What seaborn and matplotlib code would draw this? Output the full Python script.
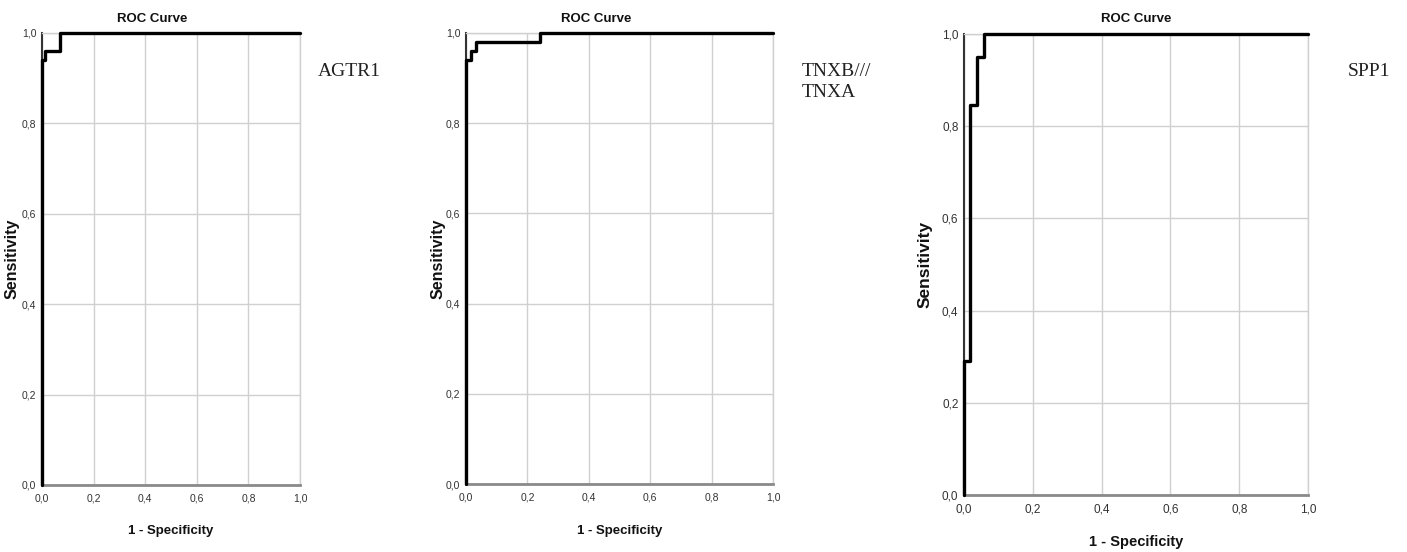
import pandas as pd
import matplotlib.pyplot as plt
import seaborn as sns
from matplotlib.ticker import FuncFormatter

# ROC points (1 - specificity, sensitivity)
agtr1_fpr = [0.0, 0.0, 0.012, 0.07, 1.0]
agtr1_tpr = [0.0, 0.94, 0.96, 1.0, 1.0]

tnxb_fpr = [0.0, 0.0, 0.016, 0.033, 0.24, 1.0]
tnxb_tpr = [0.0, 0.94, 0.96, 0.98, 1.0, 1.0]

spp1_fpr = [0.0, 0.0, 0.017, 0.039, 0.058, 1.0]
spp1_tpr = [0.0, 0.29, 0.845, 0.95, 1.0, 1.0]

gene_labels = ["AGTR1", "TNXB///\nTNXA", "SPP1"]
tick_values = [0.0, 0.2, 0.4, 0.6, 0.8, 1.0]

sns.set_style("white")
plt.rcParams["font.family"] = ["Liberation Sans", "DejaVu Sans"]

W, H = 1407, 552
fig = plt.figure(figsize=(W / 100, H / 100), dpi=100)

# axes boxes in pixels: left, top, right, bottom
boxes = [(42, 33, 300, 485), (466, 33, 773, 484), (964, 34, 1308, 495)]
title_x = [0.426, 0.423, 0.5]
ylab_px = [14, 440, 927]
xlab_py = [532, 532, 542]
tick_fs = [7.5, 7.5, 8.5]
lab_fs = [9.5, 9.5, 10.5]

curves = [(agtr1_fpr, agtr1_tpr), (tnxb_fpr, tnxb_tpr), (spp1_fpr, spp1_tpr)]
comma = FuncFormatter(lambda v, p: f"{v:.1f}".replace(".", ","))

for i, (l, t, r, b) in enumerate(boxes):
    ax = fig.add_axes([l / W, 1 - b / H, (r - l) / W, (b - t) / H])
    fpr, tpr = curves[i]
    df = pd.DataFrame({"fpr": fpr, "tpr": tpr})
    sns.lineplot(data=df, x="fpr", y="tpr", estimator=None, sort=False,
                 drawstyle="steps-post", color="black", lw=2.4,
                 clip_on=False, zorder=5, ax=ax)
    ax.set_xlim(0, 1)
    ax.set_ylim(0, 1)
    ax.set_xticks(tick_values)
    ax.set_yticks(tick_values)
    ax.xaxis.set_major_formatter(comma)
    ax.yaxis.set_major_formatter(comma)
    ax.tick_params(length=0, labelsize=tick_fs[i], colors="#333333")
    ax.tick_params(axis="x", pad=6)
    ax.tick_params(axis="y", pad=4)
    ax.grid(True, color="#d0d0d0", lw=1)
    ax.set_axisbelow(True)
    for s in ["top", "right"]:
        ax.spines[s].set_color("#d0d0d0")
        ax.spines[s].set_linewidth(1)
    ax.spines["left"].set_color("#333333")
    ax.spines["left"].set_linewidth(1.5)
    ax.spines["bottom"].set_color("#8a8a8a")
    ax.spines["bottom"].set_linewidth(2)

    ax.set_xlabel("1 - Specificity", fontsize=lab_fs[i], fontweight="bold",
                  color="#111111")
    ax.xaxis.set_label_coords(0.5, (b - (xlab_py[i] - 7)) / (b - t))
    ax.set_ylabel("Sensitivity", fontsize=lab_fs[i] + 2, fontweight="bold",
                  color="#111111")
    ax.yaxis.set_label_coords((ylab_px[i] + 6 - l) / (r - l), 0.5)

    ax.text(title_x[i], (b - 19) / (b - t), "ROC Curve", transform=ax.transAxes,
            ha="center", va="center", fontsize=9.5, fontweight="bold",
            color="#111111")

serif = ["Liberation Serif", "DejaVu Serif"]
fig.text(318 / W, 1 - 72 / H, gene_labels[0], ha="left", va="center",
         fontsize=14, family=serif, color="#222222")
fig.text(802 / W, 1 - 63 / H, gene_labels[1], ha="left", va="top",
         fontsize=14, family=serif, color="#222222", linespacing=1.3)
fig.text(1348 / W, 1 - 72 / H, gene_labels[2], ha="left", va="center",
         fontsize=14, family=serif, color="#222222")

fig.savefig("out.png", dpi=100)
